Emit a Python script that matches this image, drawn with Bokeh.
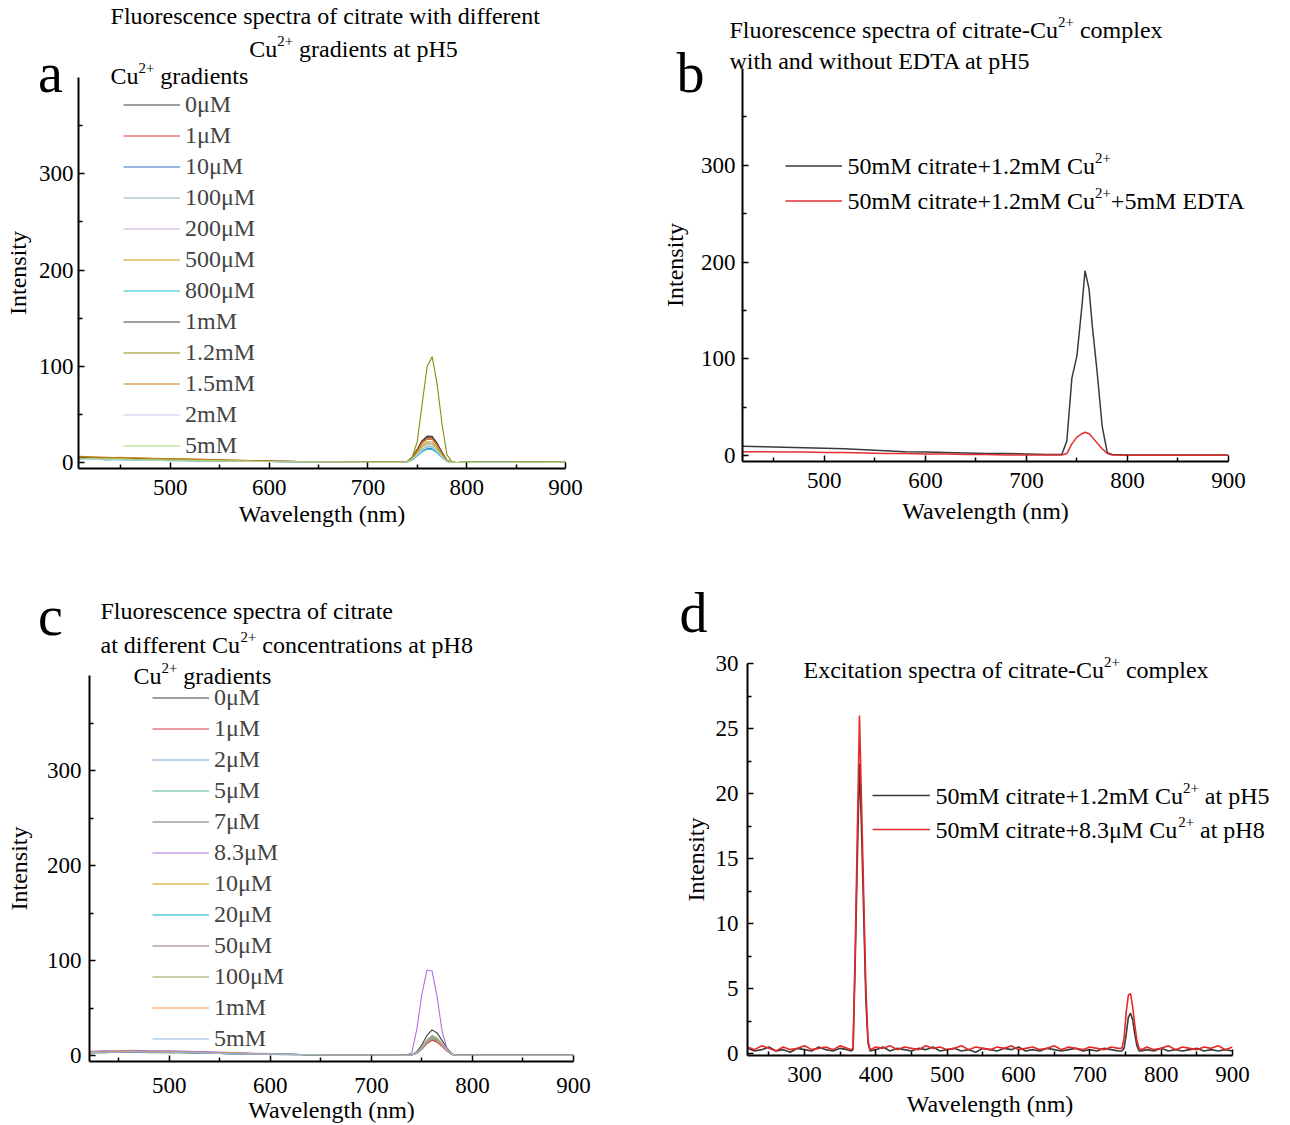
from bokeh.plotting import figure
from bokeh.models import Label, Legend, LegendItem, FixedTicker, Range1d, GridBox
from bokeh.embed import file_html
from bokeh.resources import INLINE

FONT = "Liberation Serif"

# ---------------- panel a: citrate with Cu2+ gradients at pH5 ----------------
wl_a = [407, 420, 435, 450, 465, 480, 500, 520, 540, 560, 580, 600, 630, 660, 690, 720, 735,
        740, 745, 750, 755, 760, 765, 770, 775, 780, 785, 790, 800, 830, 860, 900]
labels_a = ["0μM", "1μM", "10μM", "100μM", "200μM", "500μM", "800μM", "1mM", "1.2mM", "1.5mM", "2mM", "5mM"]
colors_a = ["#404040", "#d83838", "#2f6fc0", "#80b8b8", "#c8a8d8", "#c89a10", "#20c0c8",
            "#4a3a4a", "#8a8a10", "#c87a10", "#c4ccf0", "#a8d078"]
a_0uM = [5.5, 5.0, 4.5, 5.0, 4.0, 4.0, 3.5, 3.0, 2.5, 2.0, 2.0, 1.5, 1.0, 1.0, 0.5, 0.5, 0.5,
         1.1, 5.6, 14.0, 23.0, 27.4, 27.2, 20.2, 10.6, 2.2, 0.3, 0.0, 0.3, 0.4, 0.3, 0.2]
a_1uM = [4.5, 4.0, 4.5, 3.5, 3.5, 3.0, 3.0, 2.5, 2.0, 2.0, 1.5, 1.0, 1.0, 0.5, 0.5, 0.5, 0.5,
         1.0, 5.0, 12.5, 20.5, 24.5, 24.3, 18.0, 9.5, 2.0, 0.3, 0.0, 0.2, 0.3, 0.2, 0.3]
a_10uM = [3.5, 4.0, 3.0, 3.5, 3.0, 3.0, 2.5, 2.0, 2.0, 1.5, 1.0, 1.0, 0.5, 0.5, 0.5, 0.3, 0.3,
          0.6, 3.0, 7.5, 12.3, 14.7, 14.6, 10.8, 5.7, 1.2, 0.2, 0.0, 0.2, 0.2, 0.1, 0.2]
a_100uM = [4.0, 3.5, 4.0, 3.0, 3.5, 2.5, 2.5, 2.0, 2.0, 1.5, 1.5, 1.0, 0.5, 0.5, 0.5, 0.3, 0.3,
           0.7, 3.4, 8.5, 13.9, 16.7, 16.5, 12.2, 6.5, 1.4, 0.2, 0.0, 0.2, 0.3, 0.2, 0.2]
a_200uM = [5.0, 4.5, 4.0, 4.5, 3.5, 3.5, 3.0, 2.5, 2.0, 2.0, 1.5, 1.0, 1.0, 0.5, 0.5, 0.5, 0.3,
           0.8, 4.0, 10.0, 16.4, 19.6, 19.4, 14.4, 7.6, 1.6, 0.2, 0.0, 0.3, 0.2, 0.3, 0.2]
a_500uM = [6.0, 5.5, 5.0, 5.5, 4.5, 4.5, 4.0, 3.5, 3.0, 2.5, 2.0, 1.5, 1.0, 1.0, 0.5, 0.5, 0.5,
           0.9, 4.4, 11.0, 18.0, 21.6, 21.3, 15.8, 8.4, 1.8, 0.2, 0.0, 0.3, 0.3, 0.2, 0.2]
a_800uM = [3.0, 3.5, 3.0, 3.0, 2.5, 2.5, 2.0, 2.0, 1.5, 1.5, 1.0, 1.0, 0.5, 0.5, 0.3, 0.3, 0.3,
           0.6, 2.8, 7.0, 11.5, 13.7, 13.6, 10.1, 5.3, 1.1, 0.1, 0.0, 0.2, 0.2, 0.2, 0.1]
a_1mM = [5.0, 5.0, 4.5, 4.0, 4.0, 3.5, 3.0, 3.0, 2.5, 2.0, 1.5, 1.5, 1.0, 0.5, 0.5, 0.5, 0.5,
         1.1, 5.4, 13.5, 22.1, 26.5, 26.2, 19.4, 10.3, 2.2, 0.3, 0.0, 0.3, 0.3, 0.2, 0.3]
a_1p2mM = [4.5, 5.0, 4.0, 4.5, 3.5, 3.5, 3.0, 2.5, 2.0, 2.0, 1.5, 1.0, 1.0, 0.5, 0.5, 0.5, 0.5,
           1.0, 6.0, 22.0, 62.0, 100.0, 110.0, 82.0, 40.0, 8.0, 1.0, 0.0, 0.3, 0.3, 0.2, 0.2]
a_1p5mM = [6.5, 6.0, 5.5, 5.0, 5.0, 4.5, 4.0, 3.5, 3.0, 2.5, 2.0, 1.5, 1.0, 1.0, 0.5, 0.5, 0.5,
           1.0, 5.1, 12.8, 20.9, 25.0, 24.7, 18.4, 9.7, 2.0, 0.3, 0.0, 0.3, 0.2, 0.3, 0.2]
a_2mM = [3.5, 3.0, 3.5, 3.0, 2.5, 2.5, 2.0, 2.0, 1.5, 1.5, 1.0, 1.0, 0.5, 0.5, 0.3, 0.3, 0.3,
         0.6, 3.2, 8.0, 13.1, 15.7, 15.5, 11.5, 6.1, 1.3, 0.2, 0.0, 0.2, 0.2, 0.1, 0.2]
a_5mM = [4.0, 4.5, 3.5, 4.0, 3.0, 3.0, 2.5, 2.5, 2.0, 1.5, 1.5, 1.0, 0.5, 0.5, 0.5, 0.3, 0.3,
         0.8, 3.8, 9.5, 15.6, 18.6, 18.4, 13.7, 7.2, 1.5, 0.2, 0.0, 0.2, 0.3, 0.2, 0.2]
series_a = [a_0uM, a_1uM, a_10uM, a_100uM, a_200uM, a_500uM, a_800uM, a_1mM, a_1p2mM, a_1p5mM, a_2mM, a_5mM]

# ---------------- panel b: with and without EDTA ----------------
wl_b = [419, 440, 460, 480, 500, 520, 540, 560, 580, 600, 620, 640, 660, 680, 700, 720, 735,
        740, 745, 750, 755, 758, 762, 765, 770, 775, 780, 785, 800, 820, 840, 860, 880, 900]
b_cu = [9.5, 9.0, 8.5, 8.0, 7.5, 7.0, 6.0, 5.0, 4.0, 3.5, 3.0, 2.5, 2.0, 2.0, 1.5, 1.0, 1.0,
        15.0, 80.0, 103.0, 155.0, 191.0, 172.0, 136.0, 86.0, 30.0, 3.0, 1.0, 0.5, 0.5, 0.5, 0.5, 0.5, 0.5]
b_edta = [4.0, 4.0, 3.5, 3.5, 3.0, 3.0, 2.5, 2.0, 2.0, 1.5, 1.5, 1.0, 1.0, 0.5, 0.5, 0.5, 0.5,
          2.0, 12.0, 19.0, 22.5, 24.0, 22.5, 19.0, 13.0, 7.0, 2.0, 0.5, 0.3, 0.3, 0.3, 0.3, 0.3, 0.3]

# ---------------- panel c: citrate with Cu2+ concentrations at pH8 ----------------
wl_c = [421, 435, 450, 465, 480, 500, 520, 540, 560, 580, 600, 630, 660, 690, 720, 735,
        740, 745, 750, 755, 760, 765, 770, 775, 780, 785, 790, 800, 830, 860, 900]
labels_c = ["0μM", "1μM", "2μM", "5μM", "7μM", "8.3μM", "10μM", "20μM", "50μM", "100μM", "1mM", "5mM"]
colors_c = ["#404040", "#d03848", "#6fa0d8", "#50b0a0", "#707070", "#b070e0", "#c8a000",
            "#10b0c8", "#907080", "#90a050", "#f09050", "#90b8e0"]
c_0uM = [3.5, 4.0, 4.0, 4.5, 4.0, 4.0, 3.5, 3.0, 2.5, 2.0, 1.5, 1.0, 0.5, 0.5, 0.5, 0.5,
         0.8, 4.1, 11.3, 21.1, 27.0, 23.8, 15.7, 7.6, 1.6, 0.3, 0.2, 0.2, 0.3, 0.2, 0.2]
c_1uM = [3.0, 3.5, 3.5, 4.0, 3.5, 3.5, 3.0, 2.5, 2.0, 1.5, 1.0, 1.0, 0.5, 0.5, 0.3, 0.3,
         0.5, 2.4, 6.7, 12.5, 16.0, 14.1, 9.3, 4.5, 1.0, 0.2, 0.2, 0.2, 0.2, 0.2, 0.2]
c_2uM = [4.0, 4.5, 4.5, 5.0, 4.5, 4.5, 4.0, 3.5, 3.0, 2.0, 1.5, 1.0, 0.5, 0.5, 0.5, 0.3,
         0.6, 2.9, 8.0, 14.8, 19.0, 16.7, 11.0, 5.3, 1.1, 0.2, 0.2, 0.2, 0.2, 0.3, 0.2]
c_5uM = [3.5, 3.5, 4.0, 4.0, 3.5, 3.5, 3.0, 3.0, 2.5, 2.0, 1.5, 1.0, 0.5, 0.5, 0.5, 0.3,
         0.6, 3.0, 8.4, 15.6, 20.0, 17.6, 11.6, 5.6, 1.2, 0.2, 0.2, 0.2, 0.3, 0.2, 0.2]
c_7uM = [3.0, 3.0, 3.5, 3.5, 3.0, 3.0, 3.0, 2.5, 2.0, 1.5, 1.0, 0.5, 0.5, 0.3, 0.3, 0.3,
         0.5, 2.7, 7.6, 14.0, 18.0, 15.8, 10.4, 5.0, 1.1, 0.2, 0.2, 0.2, 0.2, 0.2, 0.2]
c_8p3uM = [4.5, 5.0, 5.0, 5.5, 5.0, 5.0, 4.5, 4.0, 3.0, 2.5, 2.0, 1.0, 1.0, 0.5, 0.5, 0.5,
           3.0, 28.0, 65.0, 90.0, 89.0, 62.0, 25.0, 7.0, 1.0, 0.3, 0.2, 0.3, 0.3, 0.2, 0.3]
c_10uM = [3.5, 4.0, 4.5, 4.5, 4.0, 4.0, 3.5, 3.0, 2.5, 2.0, 1.5, 1.0, 0.5, 0.5, 0.5, 0.3,
          0.6, 3.2, 8.8, 16.4, 21.0, 18.5, 12.2, 5.9, 1.3, 0.2, 0.2, 0.2, 0.2, 0.2, 0.2]
c_20uM = [3.0, 3.5, 3.5, 4.0, 3.5, 3.5, 3.0, 2.5, 2.0, 1.5, 1.5, 1.0, 0.5, 0.5, 0.3, 0.3,
          0.6, 2.9, 8.0, 14.8, 19.0, 16.7, 11.0, 5.3, 1.1, 0.2, 0.2, 0.2, 0.2, 0.2, 0.2]
c_50uM = [3.0, 3.0, 3.5, 3.5, 3.5, 3.0, 3.0, 2.5, 2.0, 1.5, 1.0, 1.0, 0.5, 0.5, 0.3, 0.3,
          0.5, 2.6, 7.1, 13.3, 17.0, 15.0, 9.9, 4.8, 1.0, 0.2, 0.2, 0.2, 0.2, 0.2, 0.2]
c_100uM = [3.5, 4.0, 4.0, 4.5, 4.0, 4.0, 3.5, 3.0, 2.5, 2.0, 1.5, 1.0, 0.5, 0.5, 0.5, 0.3,
           0.6, 3.1, 8.6, 16.0, 20.5, 18.0, 11.9, 5.7, 1.2, 0.2, 0.2, 0.2, 0.2, 0.2, 0.2]
c_1mM = [4.0, 4.0, 4.5, 4.5, 4.0, 4.0, 3.5, 3.0, 2.5, 2.0, 1.5, 1.0, 0.5, 0.5, 0.5, 0.3,
         0.5, 2.7, 7.6, 14.0, 18.0, 15.8, 10.4, 5.0, 1.1, 0.2, 0.2, 0.2, 0.2, 0.2, 0.2]
c_5mM = [3.0, 3.5, 3.5, 4.0, 3.5, 3.5, 3.0, 2.5, 2.0, 1.5, 1.5, 1.0, 0.5, 0.5, 0.3, 0.3,
         0.6, 3.0, 8.4, 15.6, 20.0, 17.6, 11.6, 5.6, 1.2, 0.2, 0.2, 0.2, 0.2, 0.2, 0.2]
series_c = [c_0uM, c_1uM, c_2uM, c_5uM, c_7uM, c_8p3uM, c_10uM, c_20uM, c_50uM, c_100uM, c_1mM, c_5mM]

# ---------------- panel d: excitation spectra ----------------
wl_d = [220, 230, 240, 250, 260, 270, 280, 290, 300, 310, 320, 330, 340, 350, 360,
        365, 368, 371, 374, 377, 380, 383, 386, 389, 392,
        400, 410, 420, 430, 440, 450, 460, 470, 480, 490, 500, 510, 520, 530, 540, 550, 560,
        570, 580, 590, 600, 610, 620, 630, 640, 650, 660, 670, 680, 690, 700, 710, 720, 730, 740,
        745, 748, 751, 754, 757, 760, 763, 766, 769, 772,
        780, 790, 800, 810, 820, 830, 840, 850, 860, 870, 880, 890, 900]
d_ph5 = [0.4, 0.2, 0.3, 0.5, 0.2, 0.3, 0.1, 0.4, 0.3, 0.2, 0.5, 0.3, 0.2, 0.4, 0.3,
         0.2, 0.3, 7.0, 15.0, 22.3, 17.0, 10.5, 4.0, 0.8, 0.2,
         0.3, 0.5, 0.2, 0.4, 0.3, 0.2, 0.4, 0.3, 0.5, 0.2, 0.3, 0.4, 0.2, 0.3, 0.1, 0.4, 0.3,
         0.2, 0.4, 0.3, 0.5, 0.2, 0.3, 0.2, 0.4, 0.3, 0.2, 0.3, 0.4, 0.2, 0.3, 0.2, 0.4, 0.3, 0.2,
         0.2, 0.4, 1.5, 2.8, 3.1, 2.6, 1.5, 0.6, 0.2, 0.2,
         0.3, 0.2, 0.4, 0.2, 0.3, 0.2, 0.3, 0.4, 0.2, 0.3, 0.2, 0.3, 0.2]
d_ph8 = [0.5, 0.3, 0.6, 0.4, 0.2, 0.5, 0.3, 0.4, 0.6, 0.3, 0.4, 0.5, 0.3, 0.6, 0.4,
         0.3, 0.4, 8.0, 17.0, 26.0, 19.0, 12.0, 5.0, 1.0, 0.3,
         0.5, 0.4, 0.6, 0.3, 0.5, 0.4, 0.3, 0.6, 0.4, 0.5, 0.3, 0.4, 0.6, 0.3, 0.5, 0.4, 0.3,
         0.5, 0.4, 0.6, 0.3, 0.4, 0.5, 0.3, 0.4, 0.6, 0.3, 0.5, 0.4, 0.3, 0.5, 0.4, 0.3, 0.5, 0.4,
         0.4, 1.2, 3.2, 4.5, 4.6, 3.6, 2.2, 1.0, 0.4, 0.3,
         0.5, 0.3, 0.4, 0.6, 0.3, 0.5, 0.4, 0.3, 0.5, 0.4, 0.6, 0.3, 0.5]

# Liberation Serif advance widths (per 1000 em), used to place superscripts
ADV = {" ": 250, "+": 564, "-": 333, ".": 250, "(": 333, ")": 333, "μ": 576,
       "A": 722, "C": 667, "D": 722, "E": 611, "F": 556, "H": 722, "M": 889, "T": 611,
       "a": 444, "b": 500, "c": 444, "d": 500, "e": 444, "f": 333, "g": 500, "h": 500,
       "i": 278, "l": 278, "m": 778, "n": 500, "o": 500, "p": 500, "r": 333, "s": 389,
       "t": 278, "u": 500, "w": 722, "x": 500, "y": 500}
SUP = 0.62
PAGE_W, PAGE_H = 1290, 1125


def adv(s, size):
    return sum(ADV.get(ch, 500) for ch in s) / 1000.0 * size


# transparent sheet spanning the whole page, carrying titles and rich-text labels
sheet = figure(width=PAGE_W, height=PAGE_H, x_range=Range1d(0, PAGE_W), y_range=Range1d(0, PAGE_H),
               x_axis_type=None, y_axis_type=None, output_backend="svg", toolbar_location=None,
               min_border=0, frame_align=False)
sheet.outline_line_color = None
sheet.background_fill_alpha = 0
sheet.border_fill_alpha = 0
sheet.xgrid.visible = False
sheet.ygrid.visible = False


def rich(X, Y, parts, size, align="left"):
    """Draw a line of text made of (text, is_superscript) runs at page position X, Y."""
    widths = [adv(t, size * (SUP if s else 1)) for t, s in parts]
    x = X if align == "left" else X - sum(widths) / 2.0
    for (t, s), w in zip(parts, widths):
        fs = size * SUP if s else size
        lead = len(t) - len(t.lstrip(" "))
        xs = x + adv(" " * lead, fs)
        dy = size * 0.32 if s else 0
        sheet.add_layout(Label(x=xs, y=PAGE_H - Y + dy, x_units="screen", y_units="screen",
                               text=t.strip(" "), text_font=FONT, text_font_size=f"{fs:.1f}px",
                               text_baseline="middle", text_align="left", text_color="black"))
        x += w


def panel(origin, size, frame, xr, yr, xt, xm, yt, ym, xstand=11, ystand=5, xlab_stand=3, ylab_stand=10):
    ox, oy = origin
    w, h = size
    left, top, right, bottom = frame
    p = figure(width=w, height=h, x_range=Range1d(*xr), y_range=Range1d(*yr),
               output_backend="svg", toolbar_location=None, frame_align=False,
               min_border_left=left - ox, min_border_right=ox + w - right,
               min_border_top=top - oy, min_border_bottom=oy + h - bottom)
    p.outline_line_color = None
    p.xgrid.visible = False
    p.ygrid.visible = False
    p.background_fill_color = "white"
    p.border_fill_color = "white"
    p.xaxis.ticker = FixedTicker(ticks=xt, minor_ticks=xm)
    p.yaxis.ticker = FixedTicker(ticks=yt, minor_ticks=ym)
    p.xaxis.axis_label = "Wavelength (nm)"
    p.yaxis.axis_label = "Intensity"
    for ax in (p.xaxis[0], p.yaxis[0]):
        ax.axis_line_width = 2
        ax.axis_line_color = "black"
        ax.major_tick_line_width = 1.5
        ax.minor_tick_line_width = 1.5
        ax.major_tick_in = 6
        ax.major_tick_out = 0
        ax.minor_tick_in = 4
        ax.minor_tick_out = 0
        ax.major_label_text_font = FONT
        ax.major_label_text_font_size = "23px"
        ax.major_label_text_color = "black"
        ax.axis_label_text_font = FONT
        ax.axis_label_text_font_size = "24px"
        ax.axis_label_text_font_style = "normal"
        ax.axis_label_text_color = "black"
    p.xaxis.major_label_standoff = xstand
    p.yaxis.major_label_standoff = ystand
    p.xaxis.axis_label_standoff = xlab_stand
    p.yaxis.axis_label_standoff = ylab_stand
    return p


W, H1, H2 = 645, 562, 563

# ---- a ----
pa = panel((0, 0), (W, H1), (78, 77, 565, 468), (407, 900), (-6.2, 400),
           [500, 600, 700, 800, 900], [450, 550, 650, 750, 850],
           [0, 100, 200, 300], [50, 150, 250, 350], ylab_stand=5)
items = []
for lab, col, ys in zip(labels_a, colors_a, series_a):
    r = pa.line(wl_a, ys, line_color=col, line_width=1.1)
    items.append(LegendItem(label=lab, renderers=[r]))
pa.add_layout(Legend(items=items, location=(45, 7.5), glyph_width=57, glyph_height=31,
                     label_height=31, label_standoff=5, spacing=0, padding=0, margin=0,
                     border_line_color=None, background_fill_alpha=0,
                     label_text_font=FONT, label_text_font_size="24px"))
rich(325, 15, [("Fluorescence spectra of citrate with different", False)], 24, "center")
rich(353, 48, [("Cu", False), ("2+", True), (" gradients at pH5", False)], 24, "center")
rich(110, 75, [("Cu", False), ("2+", True), (" gradients", False)], 24)
rich(50, 72, [("a", False)], 56, "center")

# ---- b ----
pb = panel((645, 0), (W, H1), (742, 68, 1228, 461), (419, 900), (-6.2, 400),
           [500, 600, 700, 800, 900], [450, 550, 650, 750, 850],
           [0, 100, 200, 300], [50, 150, 250, 350], ystand=7, xlab_stand=7)
rb1 = pb.line(wl_b, b_cu, line_color="#3a3a3a", line_width=1.5)
rb2 = pb.line(wl_b, b_edta, line_color="#e03030", line_width=1.5)
pb.add_layout(Legend(items=[LegendItem(label=" ", renderers=[rb1]), LegendItem(label=" ", renderers=[rb2])],
                     location=(43, 243.5), glyph_width=57, glyph_height=35, label_height=35,
                     label_standoff=5, spacing=0, padding=0, margin=0, border_line_color=None,
                     background_fill_alpha=0, label_text_font=FONT, label_text_font_size="24px"))
rich(729, 29, [("Fluorescence spectra of citrate-Cu", False), ("2+", True), (" complex", False)], 24)
rich(729, 60, [("with and without EDTA at pH5", False)], 24)
rich(847, 165, [("50mM citrate+1.2mM Cu", False), ("2+", True)], 24)
rich(847, 200, [("50mM citrate+1.2mM Cu", False), ("2+", True), ("+5mM EDTA", False)], 24)
rich(690, 72, [("b", False)], 56, "center")

# ---- c ----
pc = panel((0, 562), (W, H2), (89, 675, 573, 1062), (421, 900), (-6.3, 400),
           [500, 600, 700, 800, 900], [450, 550, 650, 750, 850],
           [0, 100, 200, 300], [50, 150, 250, 350], xstand=16, ystand=8, xlab_stand=1, ylab_stand=12)
items = []
for lab, col, ys in zip(labels_c, colors_c, series_c):
    r = pc.line(wl_c, ys, line_color=col, line_width=1.1)
    items.append(LegendItem(label=lab, renderers=[r]))
pc.add_layout(Legend(items=items, location=(63, 7.5), glyph_width=57, glyph_height=31,
                     label_height=31, label_standoff=5, spacing=0, padding=0, margin=0,
                     border_line_color=None, background_fill_alpha=0,
                     label_text_font=FONT, label_text_font_size="24px"))
rich(100, 610, [("Fluorescence spectra of citrate", False)], 24)
rich(100, 644, [("at different Cu", False), ("2+", True), (" concentrations at pH8", False)], 24)
rich(133, 675, [("Cu", False), ("2+", True), (" gradients", False)], 24)
rich(50, 615, [("c", False)], 56, "center")

# ---- d ----
pd_ = panel((645, 562), (W, H2), (747, 663, 1232, 1055), (220, 900), (-0.15, 30),
            [300, 400, 500, 600, 700, 800, 900], [250, 350, 450, 550, 650, 750, 850],
            [0, 5, 10, 15, 20, 25, 30], [2.5, 7.5, 12.5, 17.5, 22.5, 27.5],
            xstand=11, ystand=9, xlab_stand=6, ylab_stand=4)
rd1 = pd_.line(wl_d, d_ph5, line_color="#3a3a3a", line_width=1.6)
rd2 = pd_.line(wl_d, d_ph8, line_color="#e82828", line_width=1.6)
pd_.add_layout(Legend(items=[LegendItem(label=" ", renderers=[rd1]), LegendItem(label=" ", renderers=[rd2])],
                      location=(125, 209), glyph_width=58, glyph_height=34, label_height=34,
                      label_standoff=5, spacing=0, padding=0, margin=0, border_line_color=None,
                      background_fill_alpha=0, label_text_font=FONT, label_text_font_size="24px"))
rich(803, 669, [("Excitation spectra of citrate-Cu", False), ("2+", True), (" complex", False)], 24)
rich(935, 795, [("50mM citrate+1.2mM Cu", False), ("2+", True), (" at pH5", False)], 24)
rich(935, 829, [("50mM citrate+8.3μM Cu", False), ("2+", True), (" at pH8", False)], 24)
rich(693, 612, [("d", False)], 56, "center")

grid = GridBox(children=[(pa, 0, 0), (pb, 0, 1), (pc, 1, 0), (pd_, 1, 1), (sheet, 0, 0, 2, 2)])
open("out.html", "w").write(file_html(grid, INLINE))
